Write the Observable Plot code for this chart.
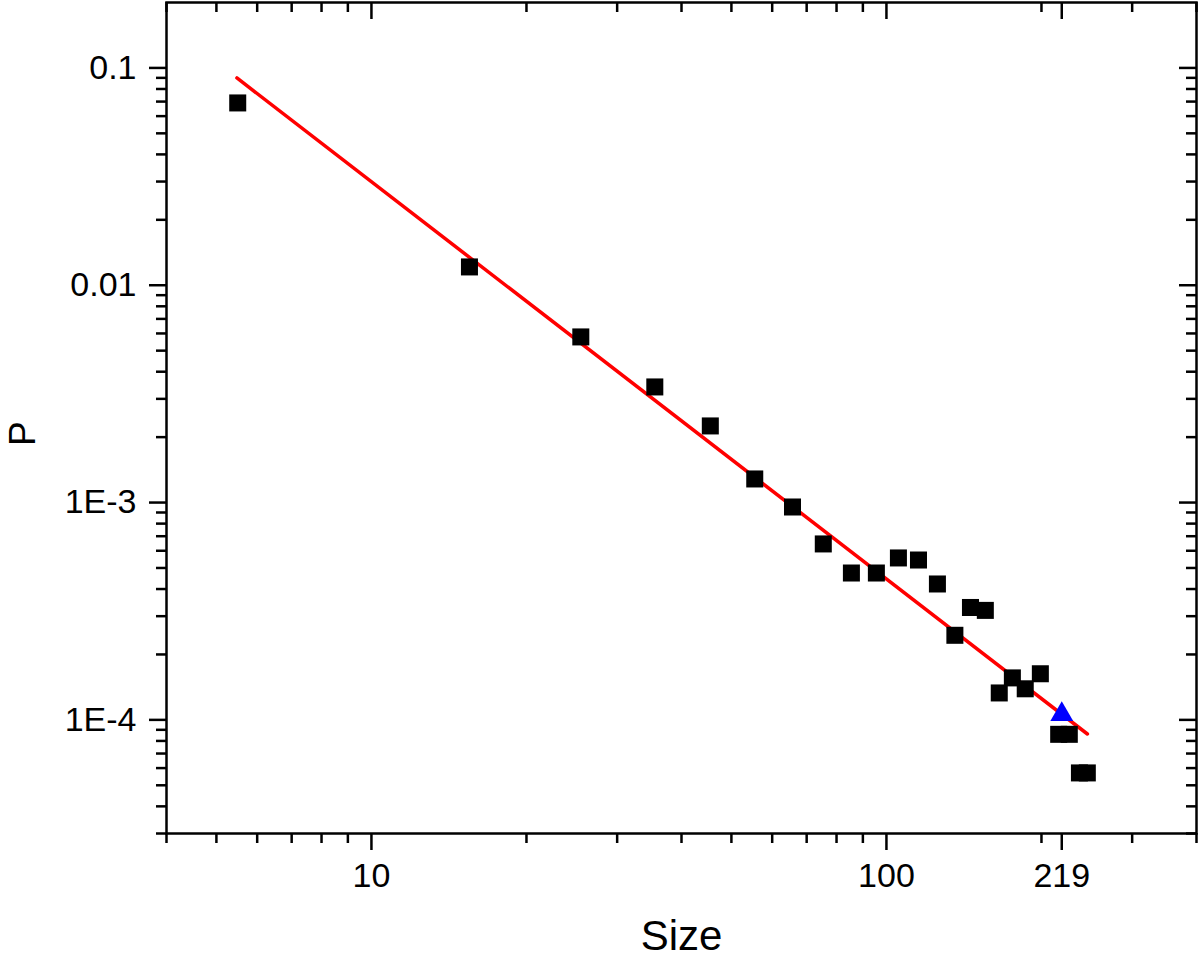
<!DOCTYPE html>
<html><head><meta charset="utf-8">
<script src="https://cdn.jsdelivr.net/npm/d3@7"></script>
<script src="https://cdn.jsdelivr.net/npm/@observablehq/plot@0.6"></script>
<style>html,body{margin:0;padding:0;background:#fff;}</style>
</head><body><div id="chart"></div>
<script>
// Data
const sizes = [5.5, 15.5, 25.5, 35.5, 45.5, 55.5, 65.7, 75.4, 85.5, 95.6, 105.5, 115.4, 125.6, 135.8, 145.6, 155.6, 165.6, 175.6, 186, 199, 216, 226.5, 237, 245.5];
const probs = [0.0690, 0.01214, 0.005783, 0.003404, 0.002252, 0.001284, 0.000954, 0.000645, 0.000474, 0.000474, 0.000556, 0.000544, 0.000422, 0.000245, 0.000329, 0.000319, 0.000133, 0.000156, 0.000139, 0.000163, 0.0000858, 0.0000858, 0.0000570, 0.0000570];
const markerSize = [219];
const markerP = [0.000106];
const fitSize = [5.48, 245.6];
const fitP = [0.0899, 0.0000861];
const xTickValues = [10, 100, 219];
const xTickLabels = ["10", "100", "219"];
const yTickValues = [0.1, 0.01, 0.001, 0.0001];
const yTickLabels = ["0.1", "0.01", "1E-3", "1E-4"];
const xMinor = [4, 5, 6, 7, 8, 9, 20, 30, 40, 50, 60, 70, 80, 90, 200, 300, 400];
const yMinorDecades = [1e-5, 1e-4, 1e-3, 1e-2];
const yMinorMult = [2, 3, 4, 5, 6, 7, 8, 9];
const yMinor = yMinorDecades.flatMap(d => yMinorMult.map(m => +(m * d).toPrecision(3))).filter(v => v >= 3e-5);

const points = sizes.map((s, i) => ({size: s, p: probs[i]}));
const marker = markerSize.map((s, i) => ({size: s, p: markerP[i]}));
const fit = fitSize.map((s, i) => ({size: s, p: fitP[i]}));

const W = 1200, H = 957;
const mL = 166, mR = 4, mT = 2, mB = 124;
const plotW = W - mL - mR, plotH = H - mT - mB;
const sw = 2.5;

const chart = Plot.plot({
  width: W, height: H,
  marginLeft: mL, marginRight: mR, marginTop: mT, marginBottom: mB,
  style: {fontFamily: "'Liberation Sans', Arial, sans-serif", fontSize: "34px", color: "black", background: "white", overflow: "visible"},
  x: {type: "log", domain: [4, 400]},
  y: {type: "log", domain: [3e-5, 0.2]},
  marks: [
    Plot.axisX(xMinor, {anchor: "bottom", tickSize: 10, tickFormat: () => "", label: null, strokeWidth: sw}),
    Plot.axisX(xTickValues, {anchor: "bottom", tickSize: 17, tickPadding: 12, tickFormat: d => xTickLabels[xTickValues.indexOf(d)], label: null, strokeWidth: sw, fontSize: 34}),
    Plot.axisY(yMinor, {anchor: "left", tickSize: 10, tickFormat: () => "", label: null, strokeWidth: sw}),
    Plot.axisY(yTickValues, {anchor: "left", tickSize: 17, tickPadding: 13, tickFormat: d => yTickLabels[yTickValues.indexOf(d)], label: null, strokeWidth: sw, fontSize: 34}),
    Plot.tickX(xMinor, {x: d => d, insetBottom: plotH - 10, stroke: "black", strokeWidth: sw}),
    Plot.tickX(xTickValues, {x: d => d, insetBottom: plotH - 17, stroke: "black", strokeWidth: sw}),
    Plot.tickY(yMinor, {y: d => d, insetLeft: plotW - 10, stroke: "black", strokeWidth: sw}),
    Plot.tickY(yTickValues, {y: d => d, insetLeft: plotW - 17, stroke: "black", strokeWidth: sw}),
    Plot.frame({stroke: "black", strokeWidth: sw}),
    Plot.line(fit, {x: "size", y: "p", stroke: "#ff0000", strokeWidth: 3.5}),
    Plot.dot(points, {x: "size", y: "p", symbol: "square", r: 9.6, fill: "black", stroke: "none"}),
    Plot.dot(marker, {x: "size", y: "p", symbol: "triangle", r: 8.5, fill: "#0000ff", stroke: "none"}),
    Plot.text(["Size"], {frameAnchor: "bottom", dy: 116, lineAnchor: "bottom", fontSize: 42, fill: "black"}),
    Plot.text(["P"], {frameAnchor: "left", dx: -143, dy: 28, rotate: -90, lineAnchor: "middle", fontSize: 37, fill: "black"})
  ]
});
document.getElementById("chart").appendChild(chart);
</script>
</body></html>
